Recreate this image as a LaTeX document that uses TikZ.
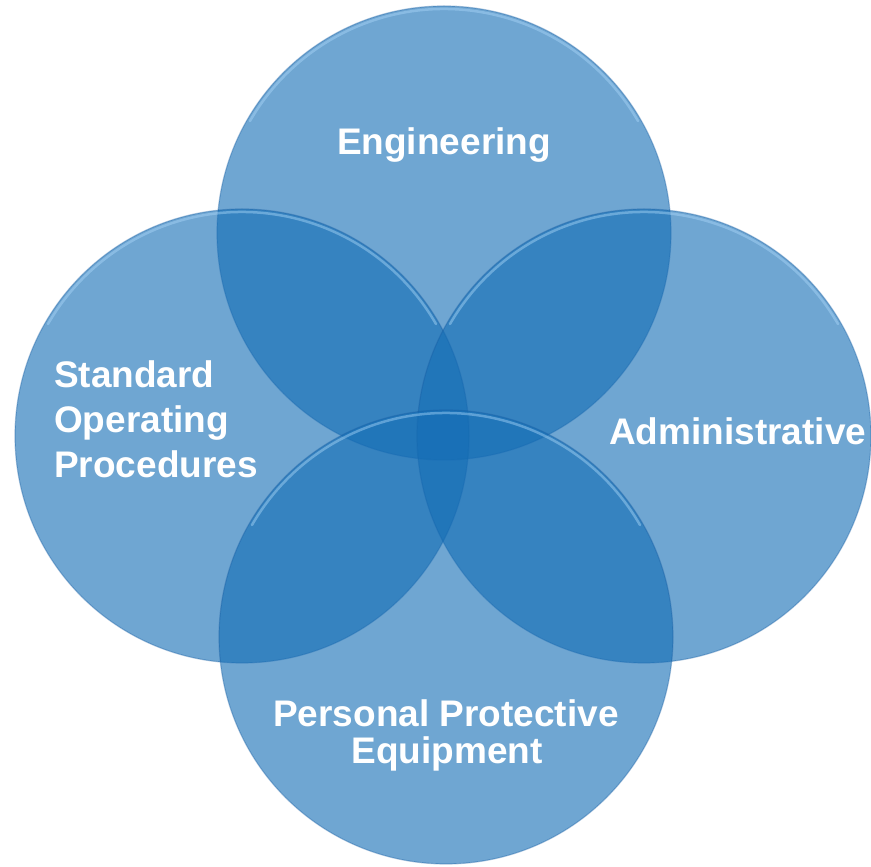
\documentclass[tikz,border=0pt]{standalone}
\usepackage{fontspec}
\setmainfont{Liberation Sans}
\definecolor{venn}{RGB}{19,109,181}
\definecolor{rim}{RGB}{20,90,160}
\definecolor{shine}{RGB}{170,215,250}
\begin{document}
\begin{tikzpicture}[x=1pt,y=1pt,
  bubble/.style={fill=venn,fill opacity=0.61,draw=rim,draw opacity=0.35,line width=1.2pt},
  gloss/.style={draw=shine,draw opacity=0.45,line width=2.5pt,line cap=round},
  lbl/.style={text=white,font=\fontsize{37}{44}\selectfont\bfseries,inner sep=0pt}]
\useasboundingbox (0,0) rectangle (871,867);
\coordinate (cT) at (444,634);
\coordinate (cL) at (242,431);
\coordinate (cR) at (644,431);
\coordinate (cB) at (446,230);
\foreach \c in {cT,cL,cR,cB}{
  \fill[bubble] (\c) circle (227);
}
\foreach \c in {cT,cL,cR,cB}{
  \draw[gloss] ([shift={(30:224)}]\c) arc (30:150:224);
}
\node[lbl,anchor=base] (eng) at (444,712) {Engineering};
\node[lbl,anchor=base west] (sop1) at (54,479) {Standard};
\node[lbl,anchor=base west] (sop2) at (54,434) {Operating};
\node[lbl,anchor=base west] (sop3) at (54,389) {Procedures};
\node[lbl,anchor=base west] (adm) at (609,422) {Administrative};
\node[lbl,anchor=base] (ppe1) at (446,140) {Personal Protective};
\node[lbl,anchor=base] (ppe2) at (447,103) {Equipment};
\end{tikzpicture}
\end{document}
